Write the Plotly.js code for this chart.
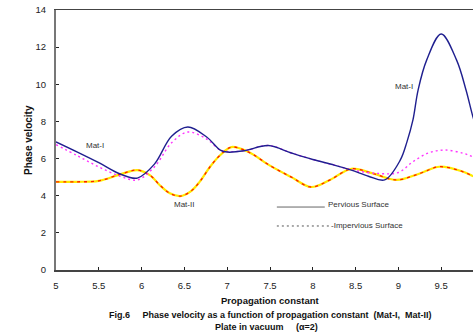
<!DOCTYPE html>
<html>
<head>
<meta charset="utf-8">
<script src="https://cdn.plot.ly/plotly-3.0.1.min.js"></script>
<style>
html,body{margin:0;padding:0;overflow:hidden;background:#fff;}
#chart{width:490px;height:334px;}
</style>
</head>
<body>
<div id="chart"></div>
<script>
// Mat-I, pervious surface
var mat1PervX = [5.0, 5.25, 5.5, 5.75, 5.95, 6.15, 6.35, 6.54, 6.76, 6.92, 7.0, 7.2, 7.48, 7.75, 8.0, 8.25, 8.45, 8.65, 8.84, 9.02, 9.1, 9.17, 9.23, 9.33, 9.5, 9.68, 9.79, 9.87, 10.0];
var mat1PervY = [6.9, 6.35, 5.78, 5.17, 4.95, 5.7, 7.2, 7.7, 7.16, 6.46, 6.35, 6.42, 6.7, 6.3, 5.95, 5.65, 5.38, 5.05, 4.85, 5.9, 6.9, 8.08, 9.69, 11.3, 12.71, 11.3, 9.69, 8.26, 6.3];
// Mat-I, impervious surface
var mat1ImpX = [5.0, 5.25, 5.5, 5.75, 5.95, 6.15, 6.35, 6.54, 6.76, 6.92, 7.0, 7.2, 7.48, 7.75, 8.0, 8.25, 8.45, 8.75, 9.0, 9.17, 9.35, 9.54, 9.76, 9.87, 10.0];
var mat1ImpY = [6.75, 6.15, 5.55, 5.05, 4.85, 5.55, 6.85, 7.43, 7.05, 6.45, 6.38, 6.42, 6.7, 6.3, 5.95, 5.65, 5.4, 5.2, 5.25, 5.83, 6.3, 6.46, 6.28, 6.1, 5.85];
// Mat-II (pervious and impervious coincide)
var mat2X = [5.0, 5.25, 5.5, 5.75, 5.95, 6.1, 6.21, 6.33, 6.45, 6.57, 6.68, 6.8, 6.92, 7.05, 7.25, 7.5, 7.75, 7.98, 8.2, 8.45, 8.7, 8.98, 9.25, 9.48, 9.75, 9.87, 10.0];
var mat2PervY = [4.75, 4.75, 4.8, 5.15, 5.38, 5.1, 4.58, 4.13, 3.98, 4.22, 4.76, 5.56, 6.19, 6.62, 6.35, 5.62, 5.0, 4.47, 4.85, 5.45, 5.2, 4.85, 5.2, 5.56, 5.3, 5.06, 4.8];
var mat2ImpY = [4.75, 4.75, 4.8, 5.15, 5.38, 5.1, 4.58, 4.13, 3.98, 4.22, 4.76, 5.56, 6.19, 6.62, 6.35, 5.62, 5.0, 4.47, 4.85, 5.45, 5.2, 4.85, 5.2, 5.56, 5.3, 5.06, 4.8];

var xTicks = [5, 5.5, 6, 6.5, 7, 7.5, 8, 8.5, 9, 9.5];
var xTickText = ['5', '5.5', '6', '6.5', '7', '7.5', '8', '8.5', '9', '9.5'];
var yTicks = [0, 2, 4, 6, 8, 10, 12, 14];

var traces = [
  {x: mat2X, y: mat2PervY, mode: 'lines', line: {color: '#FFE800', width: 2.2, shape: 'spline', smoothing: 1}},
  {x: mat2X, y: mat2ImpY, mode: 'lines', line: {color: '#FF1A00', width: 1.3, dash: '3px,4px', shape: 'spline', smoothing: 1}},
  {x: mat1ImpX, y: mat1ImpY, mode: 'lines', line: {color: '#FF33FF', width: 1.4, dash: '2px,3px', shape: 'spline', smoothing: 1}},
  {x: mat1PervX, y: mat1PervY, mode: 'lines', line: {color: '#1F1F8F', width: 1.4, shape: 'spline', smoothing: 1}}
];

var lbl = {family: 'Arial, Liberation Sans, sans-serif', size: 8, color: '#333'};
var bold = {family: 'Arial, Liberation Sans, sans-serif', size: 9.5, color: '#111'};
var nb = '\u00a0';

var layout = {
  width: 490, height: 334,
  margin: {l: 56, r: 6, t: 10, b: 64},
  paper_bgcolor: '#fff', plot_bgcolor: '#fff',
  showlegend: false,
  font: {family: 'Arial, Liberation Sans, sans-serif', size: 9.5, color: '#222'},
  xaxis: {
    range: [5, 10], tickvals: xTicks, ticktext: xTickText,
    ticks: 'inside', ticklen: 3, tickcolor: '#222', tickwidth: 1,
    showline: true, linecolor: '#444', linewidth: 1.5, mirror: true,
    showgrid: false, zeroline: false, ticklabelstandoff: 6
  },
  yaxis: {
    range: [0, 14], tickvals: yTicks,
    ticks: 'inside', ticklen: 3, tickcolor: '#222', tickwidth: 1,
    showline: true, linecolor: '#777', linewidth: 2, mirror: true,
    showgrid: false, zeroline: false, ticklabelstandoff: 6
  },
  shapes: [
    {type: 'line', xref: 'x', yref: 'y', x0: 7.58, x1: 8.14, y0: 3.39, y1: 3.39, line: {color: '#666', width: 1}},
    {type: 'line', xref: 'x', yref: 'y', x0: 7.58, x1: 8.19, y0: 2.37, y1: 2.37, line: {color: '#555', width: 1, dash: '2px,3px'}}
  ],
  annotations: [
    {xref: 'x', yref: 'y', x: 5.46, y: 6.68, text: 'Mat-I', showarrow: false, font: lbl},
    {xref: 'x', yref: 'y', x: 9.07, y: 9.9, text: 'Mat-I', showarrow: false, font: lbl},
    {xref: 'x', yref: 'y', x: 6.5, y: 3.55, text: 'Mat-II', showarrow: false, font: lbl},
    {xref: 'x', yref: 'y', x: 8.15, y: 3.55, text: 'Pervious Surface', showarrow: false, xanchor: 'left', font: lbl},
    {xref: 'x', yref: 'y', x: 8.19, y: 2.4, text: '-Impervious Surface', showarrow: false, xanchor: 'left', font: lbl},
    {xref: 'paper', yref: 'paper', x: 0, xshift: -28, xanchor: 'center', yanchor: 'middle', y: 0.5, text: '<b>Phase velocity</b>', textangle: -90, showarrow: false, font: {family: 'Arial, Liberation Sans, sans-serif', size: 10, color: '#111'}},
    {xref: 'paper', yref: 'paper', x: 0.5, y: 0, yshift: -30, yanchor: 'middle', text: '<b>Propagation constant</b>', showarrow: false, font: bold},
    {xref: 'paper', yref: 'paper', x: 0.5, y: 0, yshift: -45, yanchor: 'middle', text: '<b>Fig.6' + nb+nb+nb+nb+nb + 'Phase velocity as a function of propagation constant' + nb+nb + '(Mat-I,' + nb+nb + 'Mat-II)</b>', showarrow: false, font: {family: 'Arial, Liberation Sans, sans-serif', size: 9, color: '#111'}},
    {xref: 'paper', yref: 'paper', x: 0.5, y: 0, yshift: -57, xshift: -4, yanchor: 'middle', text: '<b>Plate in vacuum' + nb+nb+nb+nb+nb + '(\u03b1=2)</b>', showarrow: false, font: {family: 'Arial, Liberation Sans, sans-serif', size: 9, color: '#111'}}
  ]
};

Plotly.newPlot('chart', traces, layout, {displayModeBar: false, staticPlot: true});
</script>
</body>
</html>
